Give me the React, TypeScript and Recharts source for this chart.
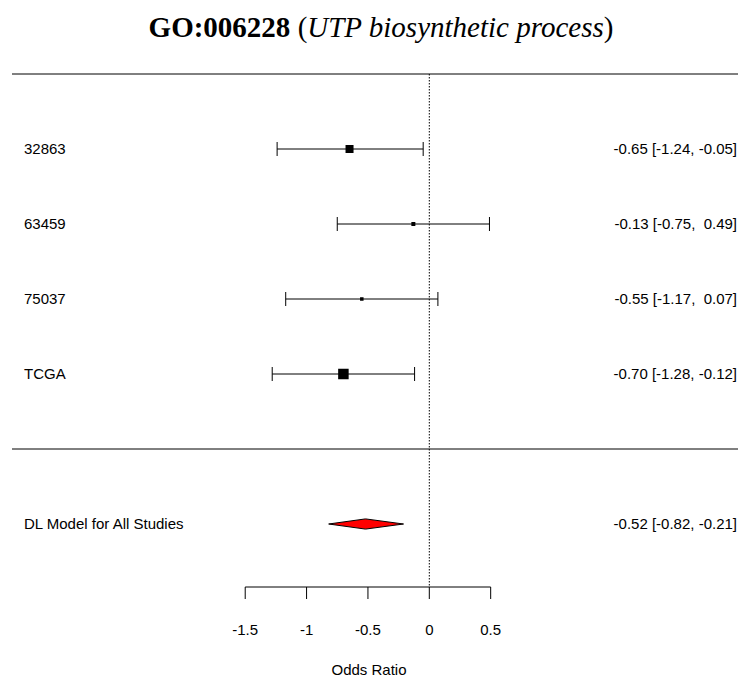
import React from "react";
import {
  ComposedChart,
  Scatter,
  Area,
  XAxis,
  YAxis,
  ErrorBar,
  ReferenceLine,
} from "recharts";

// study rows (top to bottom)
const studies = ["32863", "63459", "75037", "TCGA"];
const estimates = [-0.65, -0.13, -0.55, -0.7];
const lowerCI = [-1.24, -0.75, -1.17, -1.28];
const upperCI = [-0.05, 0.49, 0.07, -0.12];
const weights = [26.5, 22.5, 22.0, 29.0];
const rows = [5, 4, 3, 2];

// pooled estimate
const summaryLabel = "DL Model for All Studies";
const summaryEst = -0.52;
const summaryLo = -0.82;
const summaryHi = -0.21;
const summaryRow = 0;

const xTicks = [-1.5, -1, -0.5, 0, 0.5];
const yMin = -0.84;
const yMax = 6;
const sepRow = 1;

const W = 739;
const H = 678;
const sansFont = "'Liberation Sans', Arial, sans-serif";
const serifFont = "'Liberation Serif', 'Times New Roman', serif";

const fmt = (v: number) => (v < 0 ? v.toFixed(2) : " " + v.toFixed(2));
const ciText = (e: number, l: number, h: number) =>
  `${e.toFixed(2)} [${fmt(l)}, ${fmt(h)}]`;

const studyData = studies.map((name, i) => ({
  name,
  x: estimates[i],
  y: rows[i],
  err: [estimates[i] - lowerCI[i], upperCI[i] - estimates[i]],
  w: weights[i],
}));

// diamond for the pooled effect
const diamondHalf = 0.068;
const diamondData = [
  { x: summaryLo, band: [summaryRow, summaryRow] },
  { x: summaryEst, band: [summaryRow - diamondHalf, summaryRow + diamondHalf] },
  { x: summaryHi, band: [summaryRow, summaryRow] },
];

const leftLabels: Record<number, string> = {};
const rightLabels: Record<number, string> = {};
studies.forEach((s, i) => {
  leftLabels[rows[i]] = s;
  rightLabels[rows[i]] = ciText(estimates[i], lowerCI[i], upperCI[i]);
});
leftLabels[summaryRow] = summaryLabel;
rightLabels[summaryRow] = ciText(summaryEst, summaryLo, summaryHi);

const wMin = Math.min(...weights);
const wMax = Math.max(...weights);
const squareSize = (w: number) => 3.5 + (7 * (w - wMin)) / (wMax - wMin);

const Square = (props: any) => {
  const { cx, cy, payload } = props;
  const s = squareSize(payload.w);
  return <rect x={cx - s / 2} y={cy - s / 2} width={s} height={s} fill="#000" />;
};

const LeftTick = ({ y, payload }: any) => (
  <text x={24} y={y} dy="0.36em" fill="#000" fontSize={15} fontFamily={sansFont}>
    {leftLabels[payload.value]}
  </text>
);

const RightTick = ({ y, payload }: any) => (
  <text
    x={737}
    y={y}
    dy="0.36em"
    textAnchor="end"
    fill="#000"
    fontSize={15}
    fontFamily={sansFont}
    style={{ whiteSpace: "pre" }}
  >
    {rightLabels[payload.value]}
  </text>
);

export default function App() {
  return (
    <div style={{ position: "absolute", left: 0, top: 0, width: W, height: H, background: "#fff" }}>
      <svg width={W} height={60} style={{ position: "absolute", left: 0, top: 0 }}>
        <text
          x={381}
          y={37}
          textAnchor="middle"
          fontFamily={serifFont}
          fontSize={29}
          fill="#000"
          style={{ whiteSpace: "pre" }}
        >
          <tspan fontWeight="bold">GO:006228</tspan>
          <tspan>{" ("}</tspan>
          <tspan fontStyle="italic">UTP biosynthetic process</tspan>
          <tspan>)</tspan>
        </text>
      </svg>
      <ComposedChart
        width={W}
        height={H}
        data={diamondData}
        margin={{ top: 74, right: 0, bottom: 0, left: 0 }}
        style={{ position: "absolute", left: 0, top: 0 }}
      >
        <XAxis
          type="number"
          dataKey="x"
          domain={[-3.4, 2.515]}
          ticks={xTicks}
          interval={0}
          allowDataOverflow
          axisLine={false}
          tickSize={12}
          tickMargin={25}
          tickLine={{ stroke: "#000", strokeWidth: 1 }}
          tick={{ fill: "#000", fontSize: 15, fontFamily: sansFont }}
          height={91}
          label={{
            value: "Odds Ratio",
            position: "insideBottom",
            offset: 3,
            dx: -6,
            fill: "#000",
            fontSize: 15,
            fontFamily: sansFont,
          }}
        />
        <YAxis
          yAxisId="left"
          type="number"
          domain={[yMin, yMax]}
          ticks={[...rows, summaryRow]}
          interval={0}
          width={12}
          axisLine={false}
          tickLine={false}
          tick={LeftTick}
        />
        <YAxis
          yAxisId="right"
          orientation="right"
          type="number"
          domain={[yMin, yMax]}
          ticks={[...rows, summaryRow]}
          interval={0}
          width={1}
          axisLine={false}
          tickLine={false}
          tick={RightTick}
        />
        <ReferenceLine yAxisId="left" y={yMax} stroke="#000" strokeWidth={1} />
        <ReferenceLine yAxisId="right" y={sepRow} stroke="#000" strokeWidth={1} />
        <ReferenceLine
          yAxisId="left"
          segment={[{ x: 0, y: yMax }, { x: 0, y: yMin }]}
          stroke="#000"
          strokeWidth={1}
          strokeDasharray="1.5 1.5"
        />
        <ReferenceLine
          yAxisId="left"
          segment={[{ x: xTicks[0], y: yMin }, { x: xTicks[xTicks.length - 1], y: yMin }]}
          stroke="#000"
          strokeWidth={1}
        />
        <Area
          yAxisId="right"
          type="linear"
          dataKey="band"
          fill="#ff0000"
          fillOpacity={1}
          stroke="#000"
          strokeWidth={1}
          dot={false}
          activeDot={false}
          isAnimationActive={false}
        />
        <Scatter
          yAxisId="left"
          data={studyData}
          dataKey="y"
          shape={Square}
          isAnimationActive={false}
        >
          <ErrorBar dataKey="err" direction="x" width={7} stroke="#000" strokeWidth={1} isAnimationActive={false} />
        </Scatter>
      </ComposedChart>
    </div>
  );
}
